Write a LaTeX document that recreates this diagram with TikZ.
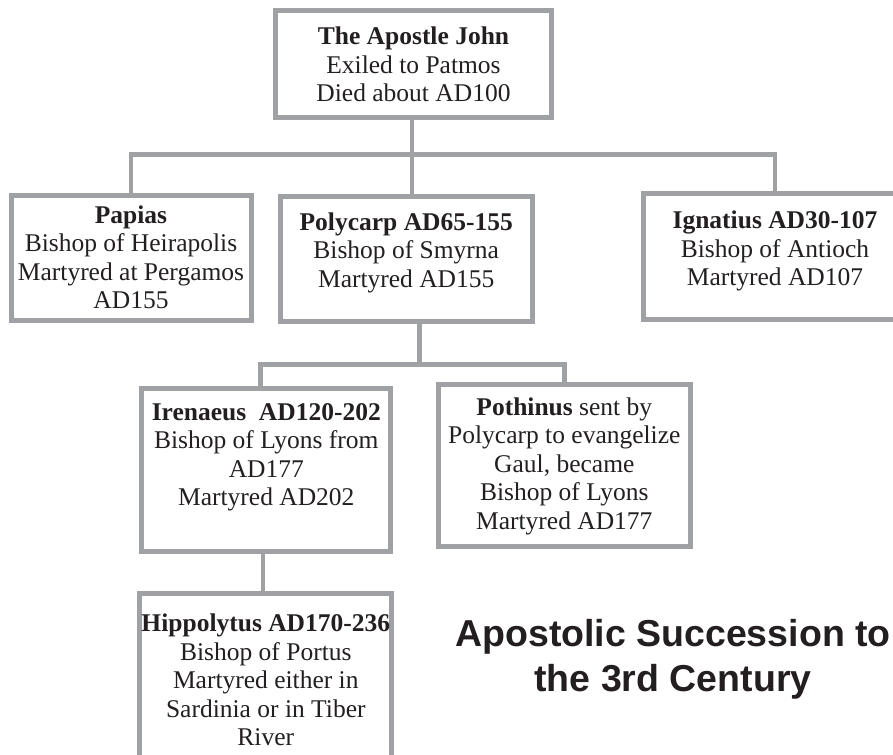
\documentclass[tikz,border=0pt]{standalone}
\usepackage{fontspec}
\setmainfont{Liberation Serif}
\newfontfamily\titlefont{Liberation Sans}
\usepackage{tikz}
\usetikzlibrary{calc}
\definecolor{boxgray}{RGB}{160,161,165}
\definecolor{ink}{HTML}{231F20}
% box text: width, height, first baseline, lines
\newcommand{\entry}[4]{\parbox[c][#2pt][t]{#1pt}{\centering\rule{0pt}{#3pt}#4}}
\tikzstyle{person} = [rectangle, draw=boxgray, line width=5pt, inner sep=0pt, text=ink, font=\fontsize{25.5}{28.5}\selectfont]
\tikzset{link/.style = {
    draw=boxgray,
    line width=4.5pt,
  }
}

\begin{document}
\begin{tikzpicture}[x=1pt, y=-1pt]
            \useasboundingbox (0,0) rectangle (893,754);
            % people
            \node[person] (john) at (413.5, 64.5) {\entry{276}{107}{34}{\textbf{The Apostle John}\\ Exiled to Patmos\\ Died about AD100}};
            \node[person] (papias) at (131, 257.75) {\entry{240}{125.5}{28}{\textbf{Papias}\\ Bishop of Heirapolis\\ Martyred at Pergamos\\ AD155}};
            \node[person] (polycarp) at (406.25, 258.75) {\entry{252.5}{124.5}{33.5}{\textbf{Polycarp AD65-155}\\ Bishop of Smyrna\\ Martyred AD155}};
            \node[person] (ignatius) at (775, 256.25) {\entry{264}{125.5}{35}{\textbf{Ignatius AD30-107}\\ Bishop of Antioch\\ Martyred AD107}};
            \node[person] (irenaeus) at (266.3, 470.2) {\entry{249}{163.3}{31.5}{\textbf{Irenaeus~ AD120-202}\\ Bishop of Lyons from\\ AD177\\ Martyred AD202}};
            \node[person] (pothinus) at (564.3, 465.5) {\entry{251.7}{162.5}{31}{\textbf{Pothinus} sent by\\ Polycarp to evangelize\\ Gaul, became\\ Bishop of Lyons\\ Martyred AD177}};
            \node[person] (hippolytus) at (265.8, 686.75) {\entry{252}{186.5}{38}{\textbf{Hippolytus AD170-236}\\ Bishop of Portus\\ Martyred either in\\ Sardinia or in Tiber\\ River}};

            % title
            \node[anchor=north, inner sep=0pt, align=center, text=ink, font=\titlefont\bfseries\fontsize{37.5}{45}\selectfont] (title) at (673, 619.5) {Apostolic Succession to\\ the 3rd Century};

            % forks
            \coordinate (fork1) at (412, 154.7);
            \coordinate (fork2) at (419.5, 364.5);

            % lines
            \draw[link] (john.south -| fork1) -- (fork1 |- polycarp.north);
            \draw[link] (papias.north) |- (fork1) -| (ignatius.north);

            \draw[link] (polycarp.south -| fork2) -- (fork2);
            \draw[link] ([xshift=-6pt]irenaeus.north) |- (fork2) -| (pothinus.north);

            \draw[link] ([xshift=-3.5pt]irenaeus.south) -- ([xshift=-3.5pt]irenaeus.south |- hippolytus.north);
\end{tikzpicture}
\end{document}
